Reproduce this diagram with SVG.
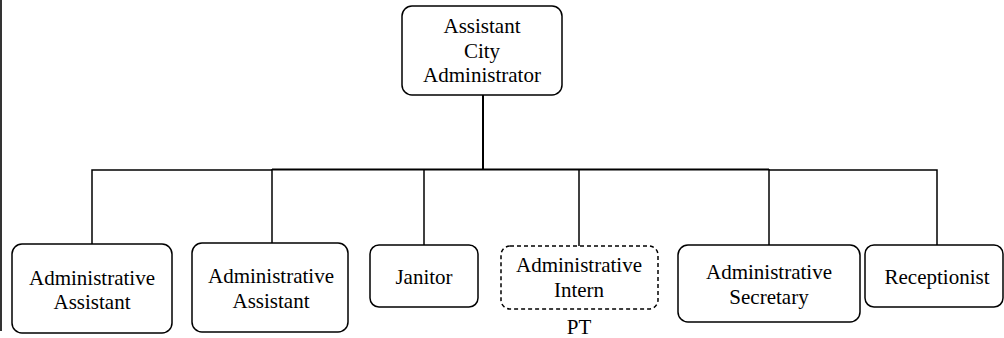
<svg xmlns="http://www.w3.org/2000/svg" width="1004" height="338" viewBox="0 0 1004 338">
<rect width="1004" height="338" fill="#fff"/>
<line x1="1" y1="0" x2="1" y2="331" stroke="#000" stroke-width="1.6"/>
<g id="connectors" stroke="#000" fill="none" stroke-width="1.5">
<line x1="483" y1="95" x2="483" y2="169.5" stroke-width="2"/>
<polyline points="92,244 92,170 272,170"/>
<line x1="272" y1="169.5" x2="769" y2="169.5" stroke-width="2"/>
<polyline points="769,170 937,170 937,245"/>
<line x1="272" y1="169" x2="272" y2="243"/>
<line x1="424" y1="169" x2="424" y2="245"/>
<line x1="579" y1="169" x2="579" y2="246"/>
<line x1="769" y1="169" x2="769" y2="245"/>
</g>
<g id="n0">
<rect x="402" y="6" width="160" height="89" rx="10" fill="#fff" stroke="#000" stroke-width="1.5"/>
<text x="482" y="33" style="font-family:'Liberation Serif',serif;font-size:21px;text-anchor:middle">Assistant</text>
<text x="482" y="57.5" style="font-family:'Liberation Serif',serif;font-size:21px;text-anchor:middle">City</text>
<text x="482" y="82" style="font-family:'Liberation Serif',serif;font-size:21px;text-anchor:middle">Administrator</text>
</g>
<g id="n1">
<rect x="12" y="244" width="160" height="89" rx="10" fill="#fff" stroke="#000" stroke-width="1.5"/>
<text x="92" y="285" style="font-family:'Liberation Serif',serif;font-size:21px;text-anchor:middle">Administrative</text>
<text x="92" y="309" style="font-family:'Liberation Serif',serif;font-size:21px;text-anchor:middle">Assistant</text>
</g>
<g id="n2">
<rect x="192" y="243" width="156" height="89" rx="10" fill="#fff" stroke="#000" stroke-width="1.5"/>
<text x="271" y="283" style="font-family:'Liberation Serif',serif;font-size:21px;text-anchor:middle">Administrative</text>
<text x="271" y="308" style="font-family:'Liberation Serif',serif;font-size:21px;text-anchor:middle">Assistant</text>
</g>
<g id="n3">
<rect x="370" y="245" width="108" height="62" rx="9" fill="#fff" stroke="#000" stroke-width="1.5"/>
<text x="424" y="284" style="font-family:'Liberation Serif',serif;font-size:21px;text-anchor:middle">Janitor</text>
</g>
<g id="n4">
<rect x="501" y="246" width="157" height="63" rx="9" fill="#fff" stroke="#000" stroke-width="1.5" stroke-dasharray="4 3"/>
<text x="579" y="272" style="font-family:'Liberation Serif',serif;font-size:21px;text-anchor:middle">Administrative</text>
<text x="579" y="297" style="font-family:'Liberation Serif',serif;font-size:21px;text-anchor:middle">Intern</text>
<text x="579" y="334" style="font-family:'Liberation Serif',serif;font-size:21px;text-anchor:middle">PT</text>
</g>
<g id="n5">
<rect x="678" y="245" width="182" height="77" rx="10" fill="#fff" stroke="#000" stroke-width="1.5"/>
<text x="769" y="279" style="font-family:'Liberation Serif',serif;font-size:21px;text-anchor:middle">Administrative</text>
<text x="769" y="304" style="font-family:'Liberation Serif',serif;font-size:21px;text-anchor:middle">Secretary</text>
</g>
<g id="n6">
<rect x="865" y="245" width="138" height="62" rx="9" fill="#fff" stroke="#000" stroke-width="1.5"/>
<text x="937" y="284" style="font-family:'Liberation Serif',serif;font-size:21px;text-anchor:middle">Receptionist</text>
</g>
</svg>
